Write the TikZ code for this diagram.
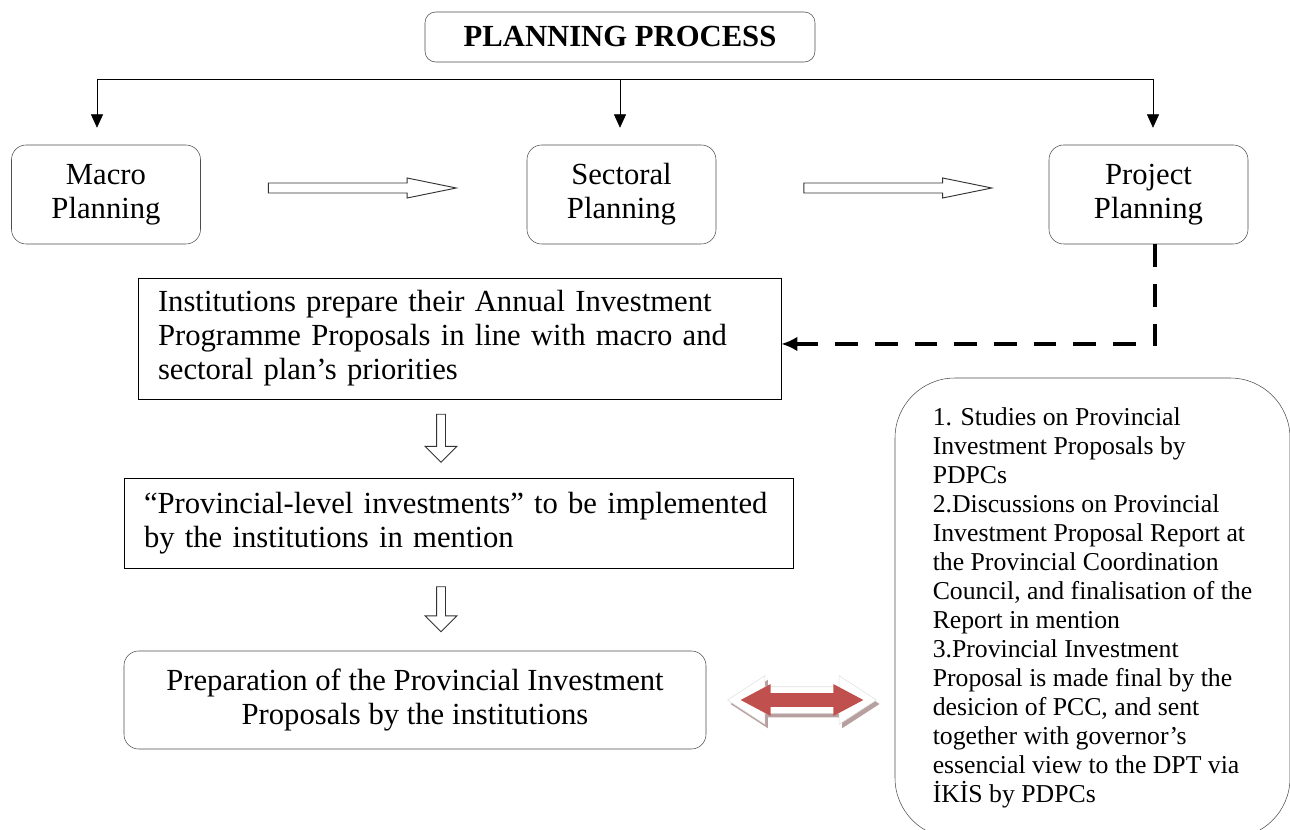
\documentclass[tikz,border=0pt]{standalone}
\usepackage{fontspec}
\setmainfont{Liberation Serif}
\usetikzlibrary{arrows.meta,shapes.arrows,positioning}

\definecolor{linkred}{HTML}{C0504D}
\definecolor{linkshade}{HTML}{B8A0A0}

\tikzset{
  bodyfont/.style={font=\fontsize{23}{25.5}\selectfont},
  titlebox/.style={draw=black!70, rounded corners=8pt, inner sep=0pt,
    font=\fontsize{23}{25.5}\selectfont\bfseries},
  planbox/.style={draw=black!70, rounded corners=11pt, align=center, inner sep=0pt,
    minimum width=141.75pt, minimum height=74.25pt, bodyfont},
  stepbox/.style={draw, align=left, inner xsep=15pt, inner ysep=0pt, bodyfont},
  notebox/.style={draw=black!70, rounded corners=45pt, align=left, inner sep=0pt,
    minimum width=296.25pt, minimum height=345pt,
    font=\fontsize{19.3}{21.75}\selectfont},
  hollowright/.style={single arrow, draw=black!80, line width=0.7pt, fill=white, inner xsep=0pt, inner ysep=3.4pt,
    single arrow head extend=3.75pt, single arrow tip angle=23, minimum height=141pt},
  hollowdown/.style={single arrow, draw=black!80, line width=0.7pt, fill=white, inner xsep=0pt, inner ysep=3pt,
    single arrow head extend=8.6pt, single arrow tip angle=90, rotate=-90},
  dashconn/.style={line width=3pt, dash pattern=on 17pt off 12.75pt, line join=miter,
    -{Latex[length=12pt,width=11pt]}},
  linkarrow/.style={double arrow, inner xsep=0pt, minimum height=111.75pt, inner ysep=9.75pt,
    double arrow head extend=8.25pt, double arrow tip angle=66}
}

\begin{document}
\begin{tikzpicture}[x=0.75pt, y=-0.75pt, >={Triangle[width=9pt,length=10pt]}]
\useasboundingbox (0,0) rectangle (1290,830);

% top
\node[titlebox, minimum width=292.5pt, minimum height=37.5pt] (title) at (620,37) {PLANNING PROCESS};

\node[planbox] (macro) at (106,194.5) {Macro\\Planning};
\node[planbox] (sectoral) at (621.5,194.5) {Sectoral\\Planning};
\node[planbox, minimum width=149.25pt] (project) at (1148.5,194.5) {Project\\Planning};

\coordinate (busl) at (97,79);
\coordinate (busm) at (620,79);
\coordinate (busr) at (1153,79);
\draw (busl) -- (busr);
\foreach \b/\n in {busl/macro, busm/sectoral, busr/project}
{
        \draw [->, shorten >=12.75pt] (\b) -- (\b |- \n.north);
}

\node[hollowright] (hollowa) at (350,188) {};
\node[hollowright] (hollowb) at (885.5,188) {};

% left column
\node[stepbox, minimum width=482.25pt, minimum height=90.75pt, text width=452.25pt] (prepare) at (459.5,338.5)
  {Institutions prepare their Annual Investment\\Programme Proposals in line with macro and\\sectoral plan’s priorities};
\draw[dashconn] ([xshift=4.9pt]project.south) |- ([yshift=-4.1pt]prepare.east);

\node[hollowdown, minimum height=36pt] (downa) at (441,436) {};

\node[stepbox, minimum width=501.75pt, minimum height=67.5pt, text width=471.75pt] (provlevel) at (458.5,523)
  {“Provincial-level investments” to be implemented\\by the institutions in mention};

\node[hollowdown, minimum height=33.75pt] (downb) at (441,607) {};

\node[planbox, minimum width=436.5pt, minimum height=73.5pt] (proposal) at (415,700)
  {Preparation of the Provincial Investment\\Proposals by the institutions};

% right
\node[notebox] (studies) at (1092.5,608)
  {1. Studies on Provincial\\
   Investment Proposals by\\
   PDPCs\\
   2.Discussions on Provincial\\
   Investment Proposal Report at\\
   the Provincial Coordination\\
   Council, and finalisation of the\\
   Report in mention\\
   3.Provincial Investment\\
   Proposal is made final by the\\
   desicion of PCC, and sent\\
   together with governor’s\\
   essencial view to the DPT via\\
   İKİS by PDPCs};

% link arrow
\node[linkarrow, fill=linkshade] (linkshadow) at (805,704) {};
\node[linkarrow, fill=white, draw=black!12] (linkback) at (802,700) {};
\node[double arrow, fill=linkred, inner xsep=0pt, inner ysep=5pt, minimum height=92pt,
  double arrow head extend=6.75pt, double arrow tip angle=56] (link) at (802,700) {};
\end{tikzpicture}
\end{document}
